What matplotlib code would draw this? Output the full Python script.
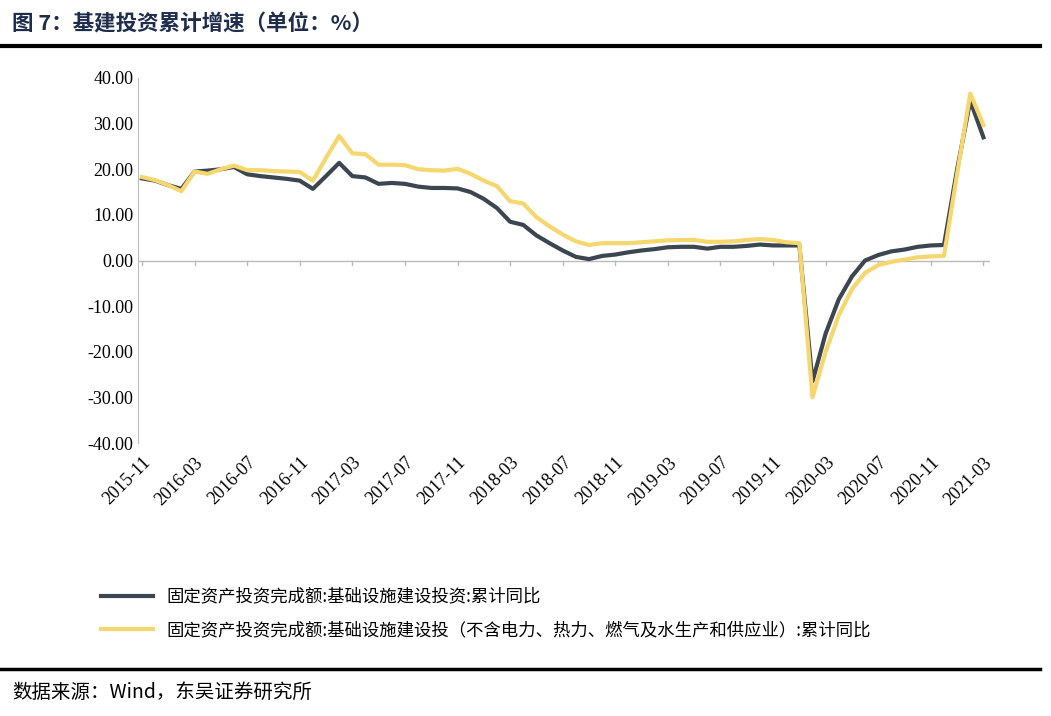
import matplotlib
matplotlib.use("Agg")
import matplotlib.pyplot as plt
import numpy as np

months = []
y, m = 2015, 11
while (y, m) <= (2021, 3):
    months.append(f"{y}-{m:02d}")
    m += 1
    if m > 12:
        m = 1; y += 1

infra = [18, 17.5, 16.5, 15.7, 19.5, 19.7, 20, 20.5, 18.9, 18.5, 18.2, 17.9, 17.5, 15.7,
         18.5, 21.4, 18.5, 18.2, 16.8, 17, 16.8, 16.2, 15.9, 15.9, 15.8, 15.0, 13.5, 11.5,
         8.5, 7.8, 5.5, 3.8, 2.2, 0.8, 0.3, 1.0, 1.3, 1.8, 2.2, 2.5, 2.9, 3.0, 3.0, 2.6,
         3.0, 3.0, 3.2, 3.5, 3.3, 3.3, 3.3, -26.5, -16, -8.5, -3.5, 0.0, 1.2, 2.0, 2.4,
         3.0, 3.3, 3.4, 20, 35, 27]
infra_ex = [18.3, 17.6, 16.5, 15.2, 19.5, 19.0, 20, 20.8, 19.8, 19.8, 19.6, 19.5, 19.4, 17.5,
            22.5, 27.3, 23.5, 23.3, 21, 21, 20.9, 20, 19.8, 19.7, 20.1, 19.0, 17.5, 16.3,
            13.0, 12.5, 9.5, 7.5, 5.7, 4.2, 3.4, 3.8, 3.8, 3.8, 4.0, 4.2, 4.4, 4.5, 4.5,
            4.1, 4.1, 4.2, 4.5, 4.7, 4.5, 4.0, 3.8, -30, -20, -12, -6.3, -2.7, -1, -0.3,
            0.2, 0.7, 0.9, 1.0, 19, 36.6, 29.7]
yticks = [40, 30, 20, 10, 0, -10, -20, -30, -40]

cjk = "Noto Sans CJK SC"
serif = "Liberation Serif"

fig = plt.figure(figsize=(10.51, 7.16), dpi=100)
ax = fig.add_axes([138/1051, 1-443/716, (990-138)/1051, (443-78)/716])
x = np.arange(len(months))
l1, = ax.plot(x, infra, color="#3c4650", lw=3)
l2, = ax.plot(x, infra_ex, color="#f5d76e", lw=3)
ax.set_ylim(-40, 40)
ax.set_xlim(-0.3, len(months) - 0.5)
ax.set_yticks(yticks)
ax.set_yticklabels([f"{v:.2f}" for v in yticks], fontfamily=serif, fontsize=13)
ticks = list(range(0, len(months), 4))
ax.set_xticks(ticks)
ax.set_xticklabels([months[i] for i in ticks], rotation=45, ha="right",
                   rotation_mode="anchor", fontfamily=serif, fontsize=13)
ax.tick_params(axis="x", length=0, pad=8)
ax.tick_params(axis="y", length=0)
for s in ["top", "right", "bottom"]:
    ax.spines[s].set_visible(False)
ax.spines["left"].set_color("#bbbbbb")
ax.axhline(0, color="#bbbbbb", lw=1, zorder=0)
for i in ticks:
    ax.plot([i, i], [0, -1], color="#bbbbbb", lw=1, zorder=0)

fig.legend([l1, l2], ["固定资产投资完成额:基础设施建设投资:累计同比",
                      "固定资产投资完成额:基础设施建设投（不含电力、热力、燃气及水生产和供应业）:累计同比"],
           loc="upper left", bbox_to_anchor=(85/1051, 1-572/716), frameon=False,
           prop={"family": cjk, "size": 12.5}, handlelength=3, labelspacing=0.9)

fig.text(12/1051, 1-24/716, "图 7：基建投资累计增速（单位：%）", fontfamily=cjk,
         fontsize=15.5, fontweight="bold", color="#1f2d4d", va="center")
fig.add_artist(plt.Line2D([0, 1040/1051], [1-46/716, 1-46/716], color="black", lw=3))
fig.add_artist(plt.Line2D([0, 1040/1051], [1-669/716, 1-669/716], color="black", lw=2.5))
fig.text(12/1051, 1-692/716, "数据来源：Wind，东吴证券研究所", fontfamily=cjk,
         fontsize=14, va="center")
fig.savefig("out.png", dpi=100, facecolor="white")
